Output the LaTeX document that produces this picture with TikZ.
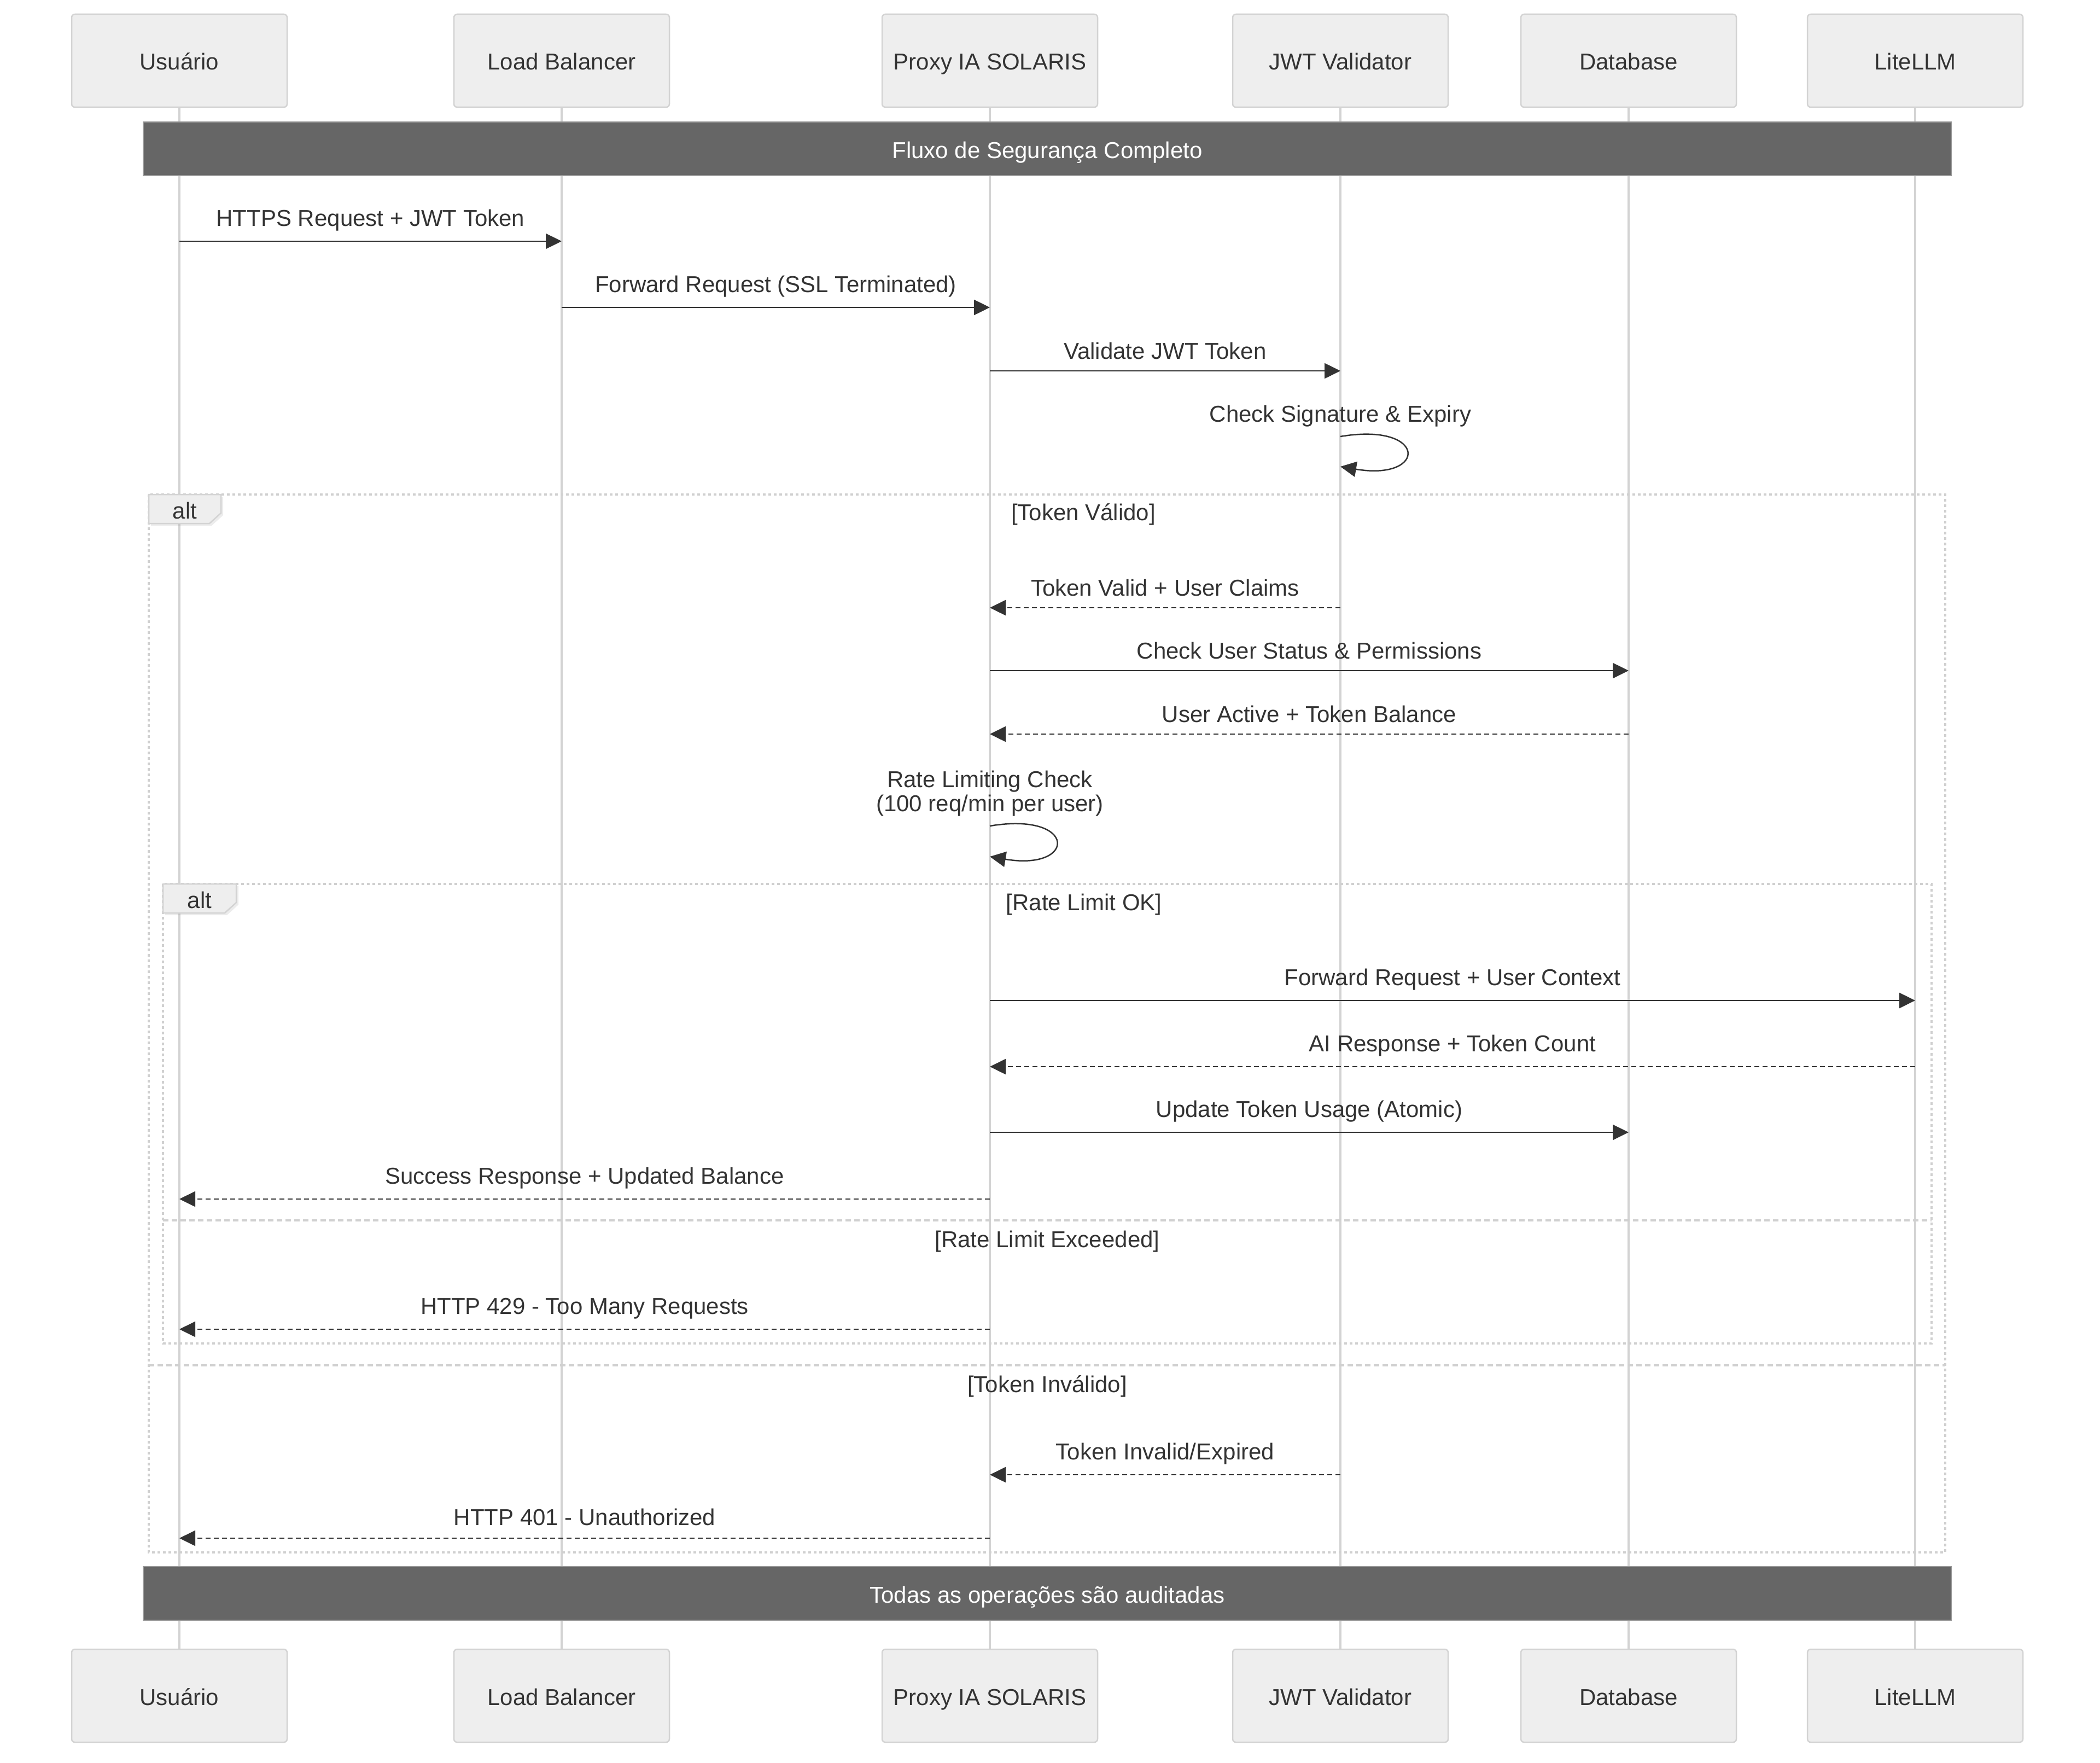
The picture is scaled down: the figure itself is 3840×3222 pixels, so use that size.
\documentclass[tikz,border=0pt]{standalone}
\usepackage{fontspec}
\setmainfont{Liberation Sans}
\usetikzlibrary{positioning,arrows.meta,shadows}
\definecolor{ink}{HTML}{333333}
\definecolor{boxfill}{HTML}{EEEEEE}
\definecolor{boxline}{HTML}{D3D3D3}
\definecolor{lifegray}{HTML}{D3D3D3}
\definecolor{framegray}{HTML}{D0D0D0}
\definecolor{notefill}{HTML}{666666}
\definecolor{noteline}{HTML}{999999}

\begin{document}
\begin{tikzpicture}[x=1pt,y=-1pt,
                    font=\fontsize{42}{44}\selectfont,
                    actor/.style={rectangle,rounded corners=6pt,draw=boxline,fill=boxfill,
                                  line width=2.5pt,minimum width=394pt,minimum height=170pt,
                                  text=ink,text height=34pt,text depth=0pt},
                    lifeline/.style={draw=lifegray,line width=4.5pt},
                    note/.style={rectangle,draw=noteline,fill=notefill,line width=2.5pt,
                                 minimum width=3306pt,minimum height=98pt,text=white,
                                 text height=34pt,text depth=0pt},
                    msg/.style={draw=ink,line width=2.5pt,-{Triangle[length=29pt,width=28pt]}},
                    reply/.style={msg,dash pattern=on 9pt off 6pt},
                    frame/.style={draw=framegray,line width=4.5pt,dash pattern=on 5pt off 5pt},
                    divider/.style={draw=framegray,line width=4.5pt,dash pattern=on 10pt off 6pt},
                    tag/.style={fill=boxfill,draw=boxline,line width=2.5pt,
                                drop shadow={opacity=0.15,shadow xshift=4pt,shadow yshift=-4pt}},
                    lbl/.style={midway,anchor=base,text=ink,yshift=28pt},
                    txt/.style={anchor=base,text=ink}
                   ]
   \useasboundingbox (0,0) rectangle (3840,3222);
   % actors
   \node[actor] (usr)   at (328,111)  {Usuário};
   \node[actor] (lb)    at (1027,111) {Load Balancer};
   \node[actor] (proxy) at (1810,111) {Proxy IA SOLARIS};
   \node[actor] (jwt)   at (2451,111) {JWT Validator};
   \node[actor] (db)    at (2978,111) {Database};
   \node[actor] (llm)   at (3502,111) {LiteLLM};
   \node[actor] (usrB)   at (328,3100)  {Usuário};
   \node[actor] (lbB)    at (1027,3100) {Load Balancer};
   \node[actor] (proxyB) at (1810,3100) {Proxy IA SOLARIS};
   \node[actor] (jwtB)   at (2451,3100) {JWT Validator};
   \node[actor] (dbB)    at (2978,3100) {Database};
   \node[actor] (llmB)   at (3502,3100) {LiteLLM};
   \path[lifeline]
    (usr.south) edge (usrB.north)
    (lb.south) edge (lbB.north)
    (proxy.south) edge (proxyB.north)
    (jwt.south) edge (jwtB.north)
    (db.south) edge (dbB.north)
    (llm.south) edge (llmB.north);
   % notes
   \node[note] (fluxo) at (1915,272) {Fluxo de Segurança Completo};
   \node[note] (audit) at (1915,2913) {Todas as operações são auditadas};
   % alt frames
   \draw[frame] (272,904) rectangle (3557,2838);
   \draw[divider] (272,2496) -- (3557,2496);
   \draw[tag] (272,904) -- (404,904) -- (404,938) -- (383,957) -- (272,957) -- cycle;
   \node[text=ink] (alt1) at (338,933) {alt};
   \node[txt] (ok1) at (1981,951) {[Token Válido]};
   \node[txt] (ko1) at (1915,2545) {[Token Inválido]};
   \draw[frame] (298,1616) rectangle (3532,2456);
   \draw[divider] (298,2231) -- (3532,2231);
   \draw[tag] (298,1616) -- (432,1616) -- (432,1650) -- (411,1669) -- (298,1669) -- cycle;
   \node[text=ink] (alt2) at (365,1645) {alt};
   \node[txt] (ok2) at (1982,1664) {[Rate Limit OK]};
   \node[txt] (ko2) at (1915,2280) {[Rate Limit Exceeded]};
   % message rows
   \coordinate (r1) at (0,441);   \coordinate (r2) at (0,562);
   \coordinate (r3) at (0,678);   \coordinate (r4) at (0,798);
   \coordinate (r4b) at (0,853);  \coordinate (r5) at (0,1111);
   \coordinate (r6) at (0,1226);  \coordinate (r7) at (0,1342);
   \coordinate (r8) at (0,1510);  \coordinate (r8b) at (0,1566);
   \coordinate (r9) at (0,1829);  \coordinate (r10) at (0,1950);
   \coordinate (r11) at (0,2070); \coordinate (r12) at (0,2192);
   \coordinate (r13) at (0,2430); \coordinate (r14) at (0,2696);
   \coordinate (r15) at (0,2812);
   % messages
   \draw[msg] (usr |- r1) -- (lb |- r1) node[lbl] (m1) {HTTPS Request + JWT Token};
   \draw[msg] (lb |- r2) -- (proxy |- r2) node[lbl] (m2) {Forward Request (SSL Terminated)};
   \draw[msg] (proxy |- r3) -- (jwt |- r3) node[lbl,yshift=-6pt] (m3) {Validate JWT Token};
   \draw[msg] (jwt |- r4) .. controls +(160,-27) and +(160,27) .. (jwt |- r4b);
   \node[txt] (m4) at (2451,771) {Check Signature \& Expiry};
   \draw[reply] (jwt |- r5) -- (proxy |- r5) node[lbl,yshift=-6pt] (m5) {Token Valid + User Claims};
   \draw[msg] (proxy |- r6) -- (db |- r6) node[lbl,yshift=-6pt] (m6) {Check User Status \& Permissions};
   \draw[reply] (db |- r7) -- (proxy |- r7) node[lbl,yshift=-6pt] (m7) {User Active + Token Balance};
   \draw[msg] (proxy |- r8) .. controls +(160,-27) and +(160,27) .. (proxy |- r8b);
   \node[text=ink,align=center] (m8) at (1810,1451) {Rate Limiting Check\\(100 req/min per user)};
   \draw[msg] (proxy |- r9) -- (llm |- r9) node[lbl] (m9) {Forward Request + User Context};
   \draw[reply] (llm |- r10) -- (proxy |- r10) node[lbl] (m10) {AI Response + Token Count};
   \draw[msg] (proxy |- r11) -- (db |- r11) node[lbl] (m11) {Update Token Usage (Atomic)};
   \draw[reply] (proxy |- r12) -- (usr |- r12) node[lbl] (m12) {Success Response + Updated Balance};
   \draw[reply] (proxy |- r13) -- (usr |- r13) node[lbl] (m13) {HTTP 429 - Too Many Requests};
   \draw[reply] (jwt |- r14) -- (proxy |- r14) node[lbl] (m14) {Token Invalid/Expired};
   \draw[reply] (proxy |- r15) -- (usr |- r15) node[lbl,yshift=-4pt] (m15) {HTTP 401 - Unauthorized};
\end{tikzpicture}
\end{document}
